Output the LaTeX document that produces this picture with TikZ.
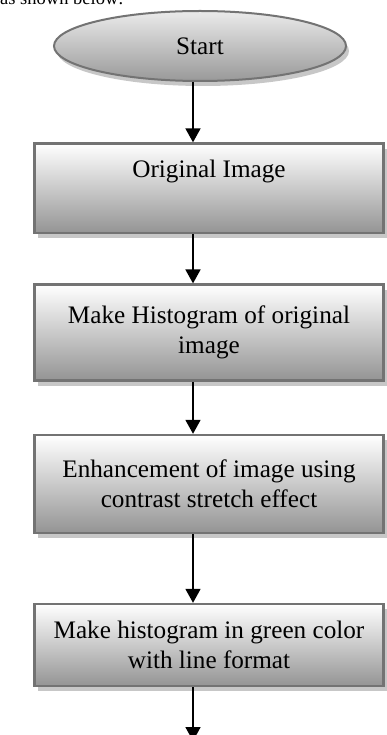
\documentclass[tikz,border=0pt]{standalone}
\usepackage{fontspec}
\setmainfont{Liberation Serif}
\usetikzlibrary{shapes.geometric,arrows.meta,shadows}

\begin{document}
\begin{tikzpicture}[x=1pt, y=1pt, node distance=150pt, auto,
    stepbox/.style={rectangle, draw=black!55, line width=2.4pt, top color=white, bottom color=black!42, minimum width=349pt, align=center, font=\fontsize{25.2}{30}\selectfont, drop shadow={shadow xshift=3pt, shadow yshift=-5pt, fill=black!22, opacity=1}},
    startbox/.style={ellipse, draw=black!55, line width=2pt, top color=black!8, bottom color=black!40, minimum width=292pt, minimum height=70pt, font=\fontsize{25.2}{30}\selectfont, drop shadow={shadow xshift=3pt, shadow yshift=-5pt, fill=black!22, opacity=1}},
    line/.style={draw, -{Triangle[width=15pt, length=14pt]}, line width=1.8pt}]

    \useasboundingbox (0,0) rectangle (386,-735);

    \node [anchor=base west, inner sep=0pt, font=\fontsize{18.5}{22}\selectfont] (intro) at (0,-5) {as shown below:};

    \node [startbox] (start) at (200,-46) {Start};
    \node [stepbox, minimum height=89.5pt, text depth=40pt] (orig) at (209,-188.3) {Original Image};
    \node [stepbox, below of=orig, node distance=144.3pt, minimum height=96pt] (hist) {Make Histogram of original\\image};
    \node [stepbox, below of=hist, node distance=151.4pt, minimum height=98pt] (enh) {Enhancement of image using\\contrast stretch effect};
    \node [stepbox, below of=enh, node distance=161pt, minimum height=82pt] (green) {Make histogram in green color\\with line format};

    % arrows run left of the box centres
    \coordinate (ax) at (193,0);
    \coordinate (out) at (193,-741);

    \path [line] (start.south -| ax) -- (orig.north -| ax);
    \path [line] (orig.south -| ax) -- (hist.north -| ax);
    \path [line] (hist.south -| ax) -- (enh.north -| ax);
    \path [line] (enh.south -| ax) -- (green.north -| ax);
    \path [line] (green.south -| ax) -- (out);
\end{tikzpicture}
\end{document}
